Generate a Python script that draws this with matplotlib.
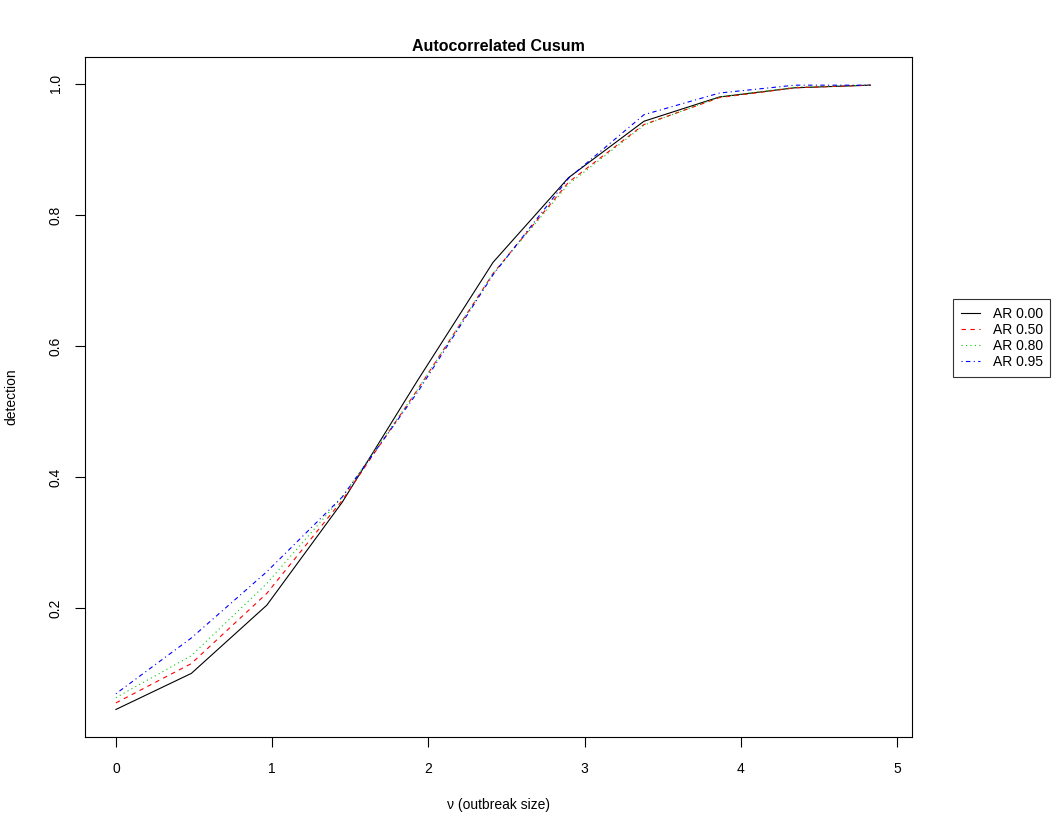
import matplotlib
matplotlib.use("Agg")
import matplotlib.pyplot as plt

plt.rcParams['font.family'] = ['Liberation Sans', 'DejaVu Sans']

# outbreak size
nu = [0, 0.483, 0.966, 1.449, 1.932, 2.415, 2.898, 3.381, 3.864, 4.347, 4.83]

# detection probability for each AR coefficient
ar_000 = [0.046, 0.101, 0.205, 0.362, 0.548, 0.728, 0.857, 0.943, 0.980, 0.994, 0.998]
ar_050 = [0.056, 0.116, 0.223, 0.365, 0.534, 0.711, 0.850, 0.938, 0.979, 0.994, 0.998]
ar_080 = [0.064, 0.128, 0.238, 0.370, 0.534, 0.711, 0.847, 0.937, 0.980, 0.995, 0.998]
ar_095 = [0.070, 0.155, 0.256, 0.370, 0.530, 0.709, 0.856, 0.953, 0.986, 0.998, 0.998]

labels = ["AR 0.00", "AR 0.50", "AR 0.80", "AR 0.95"]
colors = ["black", "#FF0000", "#00CD00", "#0000FF"]
styles = ["-", (0, (4, 4)), (0, (1, 3)), (0, (1, 3, 4, 3))]

fig = plt.figure(figsize=(10.53, 8.22), dpi=100)
ax = fig.add_axes([0.0807, 0.1034, 0.7853, 0.8273])

lines = []
for ys, c, ls, lab in zip([ar_000, ar_050, ar_080, ar_095], colors, styles, labels):
    ln, = ax.plot(nu, ys, color=c, linestyle=ls, linewidth=0.8, label=lab)
    lines.append(ln)

ax.set_xlim(-0.198, 5.096)
ax.set_ylim(0.004, 1.041)
ax.set_xticks([0, 1, 2, 3, 4, 5])
ax.set_yticks([0.2, 0.4, 0.6, 0.8, 1.0])
ax.set_yticklabels(["0.2", "0.4", "0.6", "0.8", "1.0"], rotation=90, va='center')
ax.tick_params(direction='out', length=7, width=0.8, labelsize=10)
ax.tick_params(axis='x', pad=11)
ax.tick_params(axis='y', pad=9)
for s in ax.spines.values():
    s.set_linewidth(0.8)

ax.set_xlabel("ν (outbreak size)", fontsize=10, labelpad=16)
ax.set_ylabel("detection", fontsize=10, labelpad=22)
ax.set_title("Autocorrelated Cusum", fontsize=11.5, fontweight='bold', pad=4)

leg = fig.legend(handles=lines, loc='upper left', bbox_to_anchor=(953 / 1053, 1 - 299 / 822),
                 fontsize=10, frameon=True, fancybox=False, edgecolor='black',
                 handlelength=1.4, handletextpad=0.9, borderaxespad=0, borderpad=0.55,
                 labelspacing=0.15)
leg.get_frame().set_linewidth(0.8)

fig.savefig("out.png", dpi=100)
